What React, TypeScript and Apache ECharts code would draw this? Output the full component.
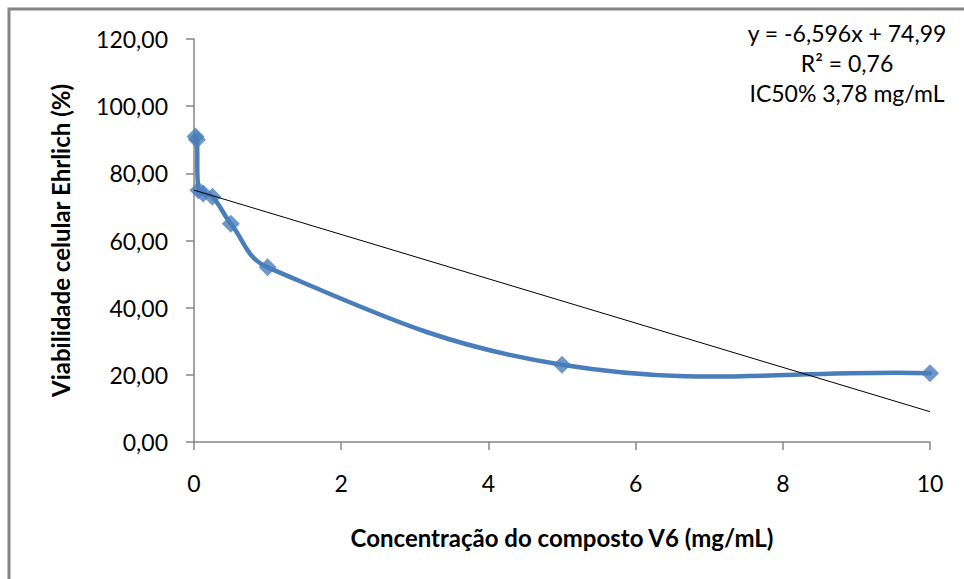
import React, { useEffect, useRef } from "react";
import * as echarts from "echarts";

const concentrations = [0.02, 0.04, 0.06, 0.125, 0.25, 0.5, 1, 5, 10];
const viability = [91, 90, 75, 74, 73, 65, 52, 23, 20.5];
const slope = -6.596;
const intercept = 74.99;
const trendX = [0, 10];
const annotationLines = ["y = -6,596x + 74,99", "R² = 0,76", "IC50% 3,78 mg/mL"];
const xTitle = "Concentração do composto V6 (mg/mL)";
const yTitle = "Viabilidade celular Ehrlich (%)";

const FONT = "Lato";
const BLUE = "#4A7EBB";

export default function App() {
  const ref = useRef<HTMLDivElement>(null);
  useEffect(() => {
    if (!ref.current) return;
    const chart = echarts.init(ref.current, undefined, { renderer: "svg" });
    const axisColor = "#868686";
    const points = concentrations.map((c, i) => [c, viability[i]]);
    chart.setOption({
      animation: false,
      backgroundColor: "#ffffff",
      grid: { left: 194, right: 34, top: 39, bottom: 137 },
      xAxis: {
        type: "value",
        min: 0,
        max: 10,
        interval: 2,
        name: xTitle,
        nameLocation: "middle",
        nameGap: 83,
        nameTextStyle: { fontFamily: FONT, fontSize: 24, fontWeight: "bold", color: "#000" },
        axisLine: { show: true, lineStyle: { color: axisColor, width: 1.5 } },
        axisTick: { show: true, length: 8, lineStyle: { color: axisColor, width: 1.5 } },
        axisLabel: { margin: 29, fontFamily: FONT, fontSize: 23, color: "#000" },
        splitLine: { show: false },
      },
      yAxis: {
        type: "value",
        min: 0,
        max: 120,
        interval: 20,
        name: yTitle,
        nameLocation: "middle",
        nameGap: 122,
        nameTextStyle: { fontFamily: FONT, fontSize: 24, fontWeight: "bold", color: "#000" },
        axisLine: { show: true, lineStyle: { color: axisColor, width: 1.5 } },
        axisTick: { show: true, length: 8, lineStyle: { color: axisColor, width: 1.5 } },
        axisLabel: {
          margin: 26,
          fontFamily: FONT,
          fontSize: 23,
          color: "#000",
          formatter: (v: number) => v.toFixed(2).replace(".", ","),
        },
        splitLine: { show: false },
      },
      series: [
        {
          type: "custom",
          data: points,
          encode: { x: 0, y: 1 },
          z: 2,
          renderItem: (params: any, api: any) => {
            if (params.dataIndex !== 0) return null;
            const px = points.map((p) => api.coord(p));
            const n = px.length;
            const t = 0.4;
            const dist = (a: number[], b: number[]) => Math.hypot(b[0] - a[0], b[1] - a[1]);
            // control points around each point
            const ctrl = px.map((p, i) => {
              const prev = px[Math.max(0, i - 1)];
              const next = px[Math.min(n - 1, i + 1)];
              const d01 = dist(prev, p);
              const d12 = dist(p, next);
              const s = d01 + d12 || 1;
              const fa = (t * d01) / s;
              const fb = (t * d12) / s;
              const vx = next[0] - prev[0];
              const vy = next[1] - prev[1];
              return {
                before: [p[0] - fa * vx, p[1] - fa * vy],
                after: [p[0] + fb * vx, p[1] + fb * vy],
              };
            });
            let d = `M${px[0][0]},${px[0][1]}`;
            for (let i = 0; i < n - 1; i++) {
              const c1 = ctrl[i].after;
              const c2 = ctrl[i + 1].before;
              const p2 = px[i + 1];
              d += ` C${c1[0]},${c1[1]} ${c2[0]},${c2[1]} ${p2[0]},${p2[1]}`;
            }
            return {
              type: "path",
              shape: { pathData: d },
              style: { fill: "none", stroke: BLUE, lineWidth: 4.5, lineJoin: "round", lineCap: "round" },
            };
          },
        },
        {
          type: "scatter",
          data: points,
          symbol: "diamond",
          symbolSize: 18,
          itemStyle: { color: BLUE },
          z: 3,
        },
        {
          type: "line",
          data: trendX.map((x) => [x, slope * x + intercept]),
          symbol: "none",
          lineStyle: { color: "#000", width: 1 },
          z: 4,
        },
      ],
      graphic: [
        {
          type: "rect",
          shape: { x: 9, y: 9, width: 1100, height: 1100 },
          style: { fill: "none", stroke: "#868686", lineWidth: 3 },
          silent: true,
        },
        ...annotationLines.map((t, i) => ({
          type: "text",
          x: 847,
          y: 33 + i * 30,
          style: {
            text: t,
            fontFamily: FONT,
            fontSize: 23,
            fill: "#000",
            align: "center",
            verticalAlign: "middle",
          },
        })),
      ],
    });
    return () => chart.dispose();
  }, []);
  return <div ref={ref} style={{ width: 964, height: 579, position: "absolute", left: 0, top: 0 }} />;
}
